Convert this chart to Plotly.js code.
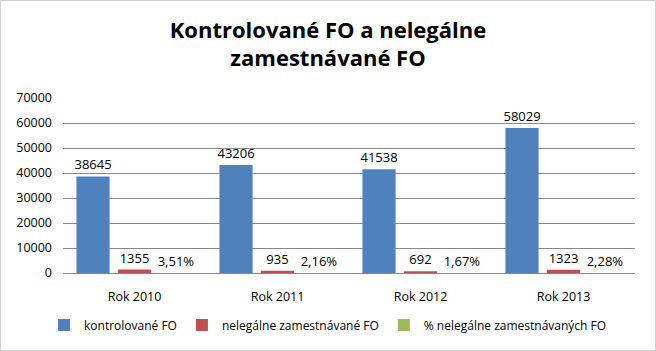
<!DOCTYPE html>
<html>
<head>
<meta charset="utf-8">
<script src="https://cdn.plot.ly/plotly-3.0.1.min.js"></script>
<style>
html,body{margin:0;padding:0;background:#fff;}
#chart{width:654px;height:349px;border:1px solid #d0d0d0;}
</style>
</head>
<body>
<div id="chart"></div>
<script>
const categories = ["Rok 2010", "Rok 2011", "Rok 2012", "Rok 2013"];
const kontrolovane = [38645, 43206, 41538, 58029];
const nelegalne = [1355, 935, 692, 1323];
const percentNelegalne = [3.51, 2.16, 1.67, 2.28];
const seriesNames = ["kontrolované FO", "nelegálne zamestnávané FO", "% nelegálne zamestnávaných FO"];
const tickVals = [0, 10000, 20000, 30000, 40000, 50000, 60000, 70000];

const FONT = "Open Sans, DejaVu Sans, sans-serif";
const labelFont = {family: FONT, size: 13, color: "#000"};
const pctText = percentNelegalne.map(v => v.toFixed(2).replace(".", ",") + "%");

const common = {type: "bar", x: categories, textposition: "outside",
                textfont: labelFont, cliponaxis: false, constraintext: "none"};
const traces = [
  Object.assign({}, common, {name: seriesNames[0], y: kontrolovane,
   marker: {color: "#4F81BD"}, text: kontrolovane.map(String)}),
  Object.assign({}, common, {name: seriesNames[1], y: nelegalne,
   marker: {color: "#C0504D"}, text: nelegalne.map(String)}),
  Object.assign({}, common, {name: seriesNames[2], y: percentNelegalne.map(v => v / 100),
   marker: {color: "#9BBB59"}, text: pctText})
];

const layout = {
  width: 654, height: 349,
  paper_bgcolor: "#fff", plot_bgcolor: "#fff",
  margin: {l: 62, r: 20, t: 97, b: 77},
  title: {text: "<b>Kontrolované FO a nelegálne<br>zamestnávané FO</b>",
          x: 0.5, xanchor: "center", xref: "container", y: 0.895, yanchor: "middle",
          font: {family: FONT, size: 22, color: "#000"}},
  barmode: "group", bargap: 0.13, bargroupgap: 0.2,
  xaxis: {type: "category", showgrid: false, showline: false, ticks: "",
          ticklabelstandoff: 14,
          tickfont: {family: FONT, size: 12.5, color: "#000"}},
  yaxis: {range: [0, 70000], tickvals: tickVals, ticktext: tickVals.map(String),
          showgrid: true, gridcolor: "#878787", gridwidth: 1, zeroline: true,
          zerolinecolor: "#878787", zerolinewidth: 1, showline: false, ticks: "",
          ticklabelstandoff: 10,
          tickfont: {family: FONT, size: 12.5, color: "#000"}},
  showlegend: true,
  legend: {orientation: "h", x: 0.5, xanchor: "center", xref: "container",
           y: 0.0716, yanchor: "middle", yref: "container",
           font: {family: FONT, size: 12, color: "#000"},
           itemwidth: 30, tracegroupgap: 0}
};

Plotly.newPlot("chart", traces, layout, {displayModeBar: false, staticPlot: true});
</script>
</body>
</html>
